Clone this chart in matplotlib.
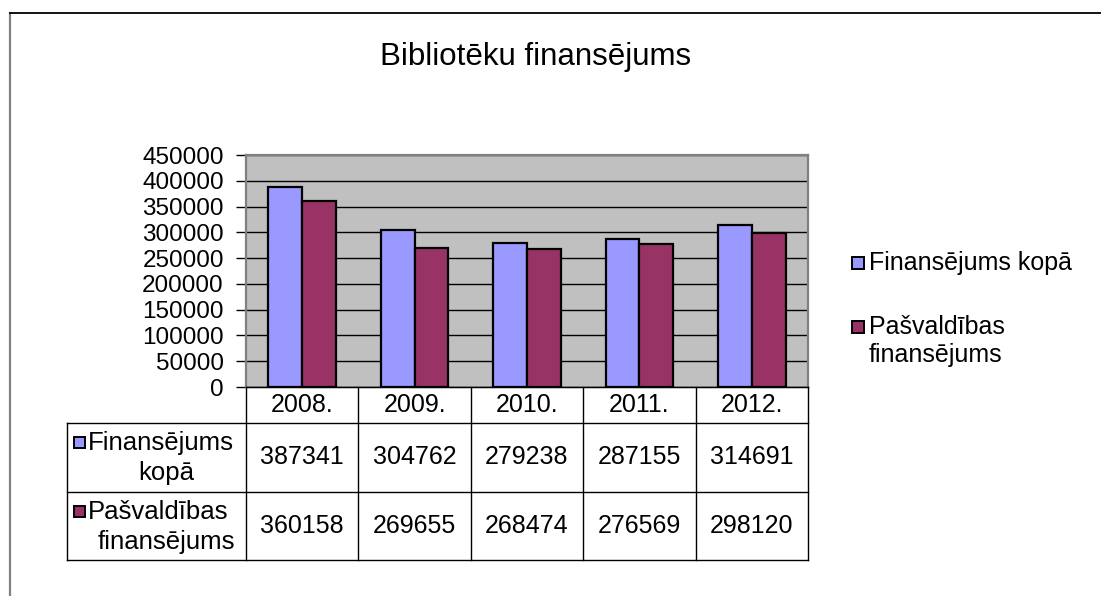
import matplotlib
matplotlib.use("Agg")
import matplotlib.pyplot as plt
from matplotlib.patches import Rectangle
from matplotlib.lines import Line2D
import numpy as np

plt.rcParams['font.family'] = ['Liberation Sans', 'DejaVu Sans']

title = "Bibliotēku finansējums"
years = ["2008.", "2009.", "2010.", "2011.", "2012."]
table_row_labels = [["Finansējums", "kopā"], ["Pašvaldības", "finansējums"]]
legend_labels = [["Finansējums kopā"], ["Pašvaldības", "finansējums"]]
total = [387341, 304762, 279238, 287155, 314691]
municipal = [360158, 269655, 268474, 276569, 298120]
colors = ["#9999FF", "#993366"]

W, H = 1101, 596
fig = plt.figure(figsize=(W / 100, H / 100), dpi=100)

def fx(px):
    return px / W

def fy(py):
    return 1 - py / H

# outer frame
fig.add_artist(Line2D([fx(10), fx(10)], [fy(13), fy(600)], color="#808080", lw=1.6))
fig.add_artist(Line2D([fx(10), fx(1105)], [fy(13), fy(13)], color="black", lw=1.3))

fig.text(fx(536), fy(57), title, ha="center", va="center", fontsize=22.5)

L, R, T, B = 246, 808, 155, 387
ax = fig.add_axes([fx(L), fy(B), fx(R) - fx(L), fy(T) - fy(B)])
ax.set_facecolor("#C0C0C0")
x = np.arange(len(years))
bw = 0.3
ax.bar(x - bw / 2, total, bw, color=colors[0], edgecolor="black", linewidth=1.6, zorder=3)
ax.bar(x + bw / 2, municipal, bw, color=colors[1], edgecolor="black", linewidth=1.6, zorder=3)
ax.set_xlim(-0.5, len(years) - 0.5)
ax.set_ylim(0, 450000)
ax.set_yticks(np.arange(0, 450001, 50000))
ax.yaxis.grid(True, color="black", lw=1.0, zorder=1)
ax.set_axisbelow(True)
ax.set_xticks([])
ax.tick_params(axis="y", length=7, width=1.0, color="black", labelsize=17.5, pad=9)
for s in ["top", "right", "left"]:
    ax.spines[s].set_color("#808080")
    ax.spines[s].set_linewidth(1.6)
ax.spines["bottom"].set_color("black")

# data table
col_edges = np.linspace(L, R, len(years) + 1)
row_edges = [387, 423, 492, 560]
TL = 67
lc = "black"
lw = 1.0
fig.add_artist(Line2D([fx(L), fx(R)], [fy(row_edges[0])] * 2, color=lc, lw=lw))
for ry in row_edges[1:]:
    fig.add_artist(Line2D([fx(TL), fx(R)], [fy(ry)] * 2, color=lc, lw=lw))
fig.add_artist(Line2D([fx(TL), fx(TL)], [fy(row_edges[1]), fy(row_edges[3])], color=lc, lw=lw))
for cx in col_edges:
    fig.add_artist(Line2D([fx(cx), fx(cx)], [fy(row_edges[0]), fy(row_edges[3])], color=lc, lw=lw))

fs = 18
for i, yr in enumerate(years):
    cxm = (col_edges[i] + col_edges[i + 1]) / 2
    fig.text(fx(cxm), fy((row_edges[0] + row_edges[1]) / 2), yr, ha="center", va="center", fontsize=fs)
    fig.text(fx(cxm), fy((row_edges[1] + row_edges[2]) / 2), str(total[i]), ha="center", va="center", fontsize=fs)
    fig.text(fx(cxm), fy((row_edges[2] + row_edges[3]) / 2), str(municipal[i]), ha="center", va="center", fontsize=fs)

for r, (lab, c) in enumerate(zip(table_row_labels, colors)):
    top = row_edges[r + 1]
    fig.add_artist(Rectangle((fx(74), fy(top + 25)), fx(11), fy(0) - fy(11), facecolor=c,
                             edgecolor="black", lw=1.4, transform=fig.transFigure))
    fig.text(fx(88), fy(top + 20), lab[0], ha="left", va="center", fontsize=18.5)
    fig.text(fx((TL + L) / 2 + 10), fy(top + 50), lab[1], ha="center", va="center", fontsize=18.5)

# legend
leg_y = [263, 327]
for lab, c, ly in zip(legend_labels, colors, leg_y):
    fig.add_artist(Rectangle((fx(852), fy(ly + 6)), fx(12), fy(0) - fy(12), facecolor=c,
                             edgecolor="black", lw=1.4, transform=fig.transFigure))
    for k, line in enumerate(lab):
        fig.text(fx(869), fy(ly + 28 * k), line, ha="left", va="center", fontsize=fs)

fig.savefig("out.png", dpi=100)
